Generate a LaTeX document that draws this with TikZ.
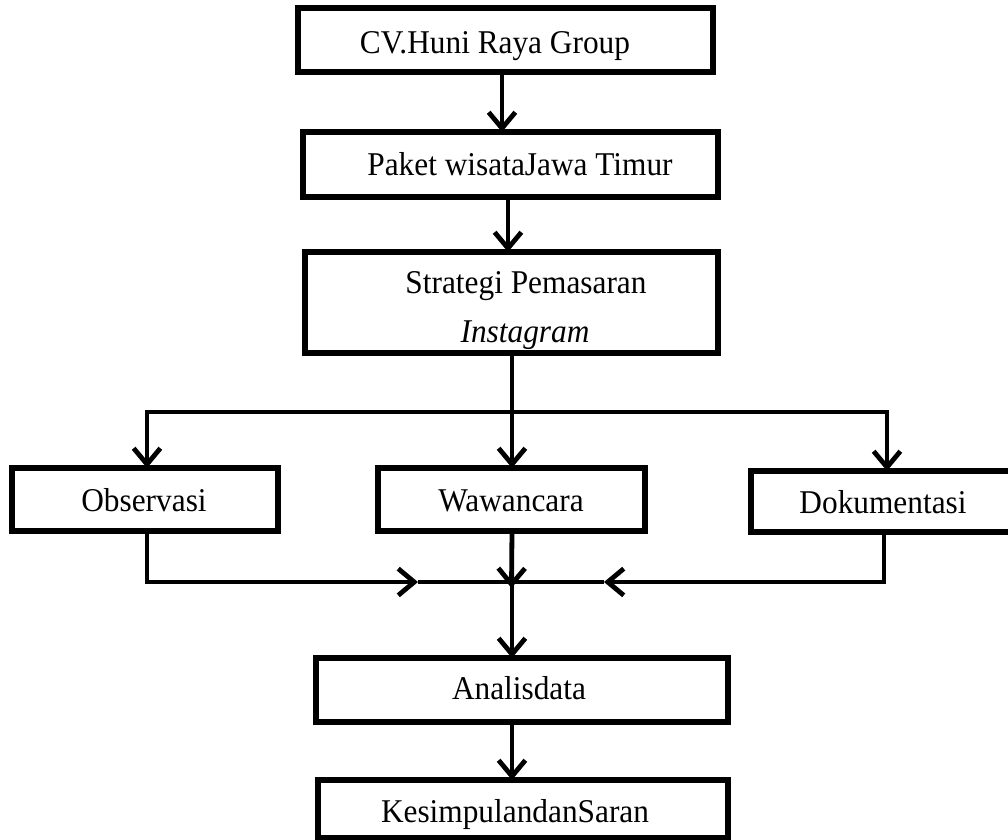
\documentclass[tikz,border=0pt]{standalone}
\usepackage{fontspec}
\usepackage{graphicx}
\setmainfont{Liberation Serif}
\usetikzlibrary{arrows.meta,fit}
\newcommand{\vstr}[1]{\scalebox{1}[1.06]{#1}}
\begin{document}
\begin{tikzpicture}[x=0.75pt,y=-0.75pt,
  box/.style={draw=black,line width=3.8pt,fill=white,inner sep=0pt,outer sep=0pt,rectangle},
  lbl/.style={font=\fontsize{23.5}{28}\selectfont,anchor=base,inner sep=0pt},
  conn/.style={line width=3.6pt,-{Straight Barb[length=12pt,width=20pt,line width=3.6pt]}},
  ln/.style={line width=3.6pt},
]
\useasboundingbox (0,0) rectangle (1008,840);
% boxes
\node[box,fit={(298,8)(713,72)}] (b1) {};
\node[box,fit={(303,132)(718,197)}] (b2) {};
\node[box,fit={(305,252)(718,353)}] (b3) {};
\node[box,fit={(12,468)(278,531)}] (o) {};
\node[box,fit={(378,468)(645,531)}] (w) {};
\node[box,fit={(751,471)(1014,532)}] (d) {};
\node[box,fit={(316,658)(728,722)}] (a) {};
\node[box,fit={(318,780)(728,838)}] (k) {};
% texts
\node[lbl] (t1) at (495,53) {\vstr{CV.Huni Raya Group}};
\node[lbl] (t2) at (520,175) {\vstr{Paket wisataJawa Timur}};
\node[lbl] (t3a) at (526,293) {\vstr{Strategi Pemasaran}};
\node[lbl] (t3b) at (525,342) {\vstr{\textit{Instagram}}};
\node[lbl] (to) at (144,511) {\vstr{Observasi}};
\node[lbl] (tw) at (511,511) {\vstr{Wawancara}};
\node[lbl] (td) at (883,513) {\vstr{Dokumentasi}};
\node[lbl] (ta) at (519,699) {\vstr{Analisdata}};
\node[lbl] (tk) at (515,822) {\vstr{KesimpulandanSaran}};
% junction coordinates
\coordinate (c12) at (502,72);
\coordinate (c23) at (508,197);
\coordinate (j) at (512,412);
\coordinate (jl) at (147,412);
\coordinate (jr) at (887,412);
\coordinate (ml) at (418,582);
\coordinate (mr) at (604,582);
% connectors
\draw[conn] (b1.south -| c12) -- (b2.north -| c12);
\draw[conn] (b2.south -| c23) -- (b3.north -| c23);
\draw[ln] (b3.south -| j) -- (j);
\draw[ln,line cap=rect] (jl) -- (jr);
\draw[conn] (jl) -- (o.north -| jl);
\draw[conn] (j) -- (w.north -| j);
\draw[conn] (jr) -- (d.north -| jr);
\draw[conn] (o.south -| jl) |- (ml);
\draw[ln] (ml) -- (mr);
\draw[conn] (d.south -| 884,0) |- (mr);
\draw[conn] (w.south -| j) -- ([yshift=-4.5pt]w.south |- ml);
\draw[conn] (ml -| j) -- (a.north -| j);
\draw[conn] (a.south -| j) -- (k.north -| j);
\end{tikzpicture}
\end{document}
